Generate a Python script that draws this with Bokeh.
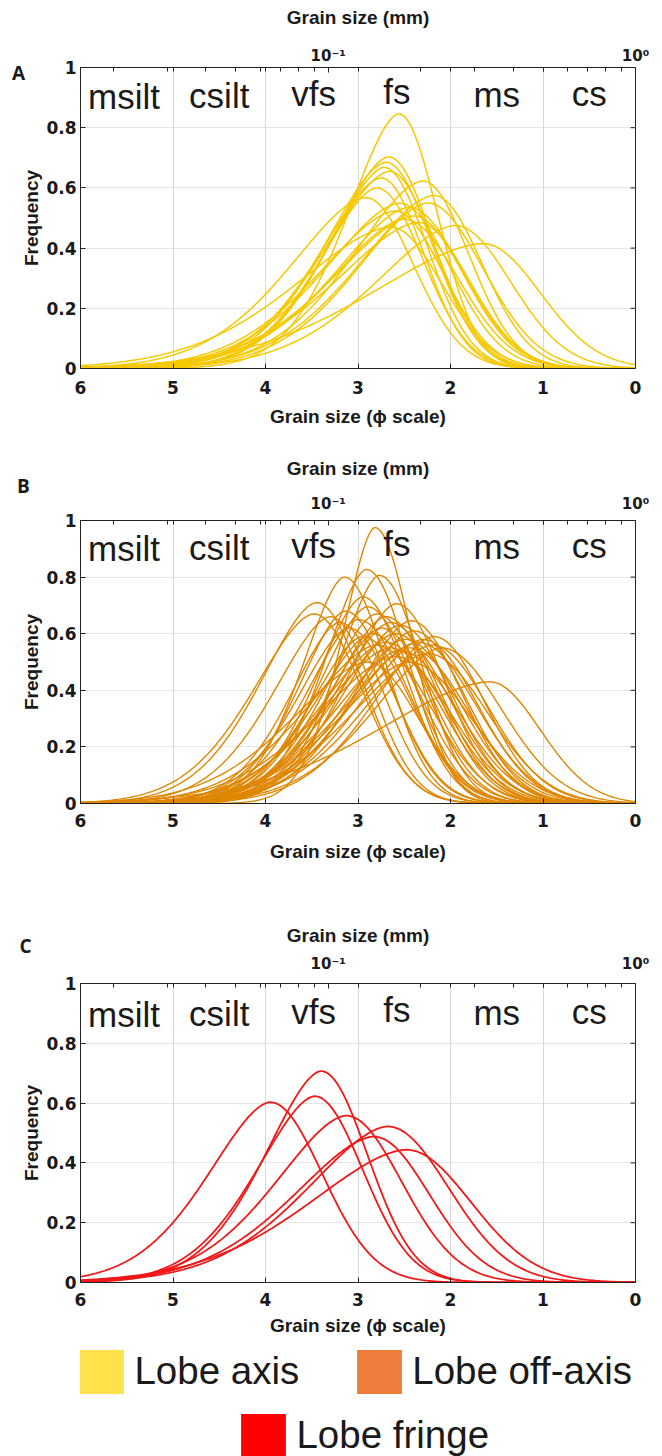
import numpy as np
from bokeh.plotting import figure
from bokeh.models import (Range1d, LinearAxis, LogAxis, LogScale, FixedTicker, Grid,
                          Label, Legend, LegendItem, ColumnDataSource)
from bokeh.layouts import column
from bokeh.embed import file_html
from bokeh.resources import INLINE
from bokeh.core.properties import value

# ---------------- data ----------------
phi_ticks = [6, 5, 4, 3, 2, 1, 0]
freq_ticks = [0, 0.2, 0.4, 0.6, 0.8, 1]
freq_tick_labels = ["0", "0.2", "0.4", "0.6", "0.8", "1"]
class_names = ["msilt", "csilt", "vfs", "fs", "ms", "cs"]
class_bounds = [6, 5, 4, 3, 2, 1, 0]
mm_major = [0.1, 1.0]
mm_major_labels = ["10\u207b\u00b9", "10\u2070"]
mm_minor = [0.02, 0.03, 0.04, 0.05, 0.06, 0.07, 0.08, 0.09,
            0.2, 0.3, 0.4, 0.5, 0.6, 0.7, 0.8, 0.9]

# Panel A - lobe axis: mode (phi), peak frequency, spread toward fine side, spread toward coarse side
axis_mode = [2.56, 2.67, 2.70, 2.72, 2.66, 2.75, 2.30, 2.92, 2.18, 2.55,
             2.45, 2.60, 2.40, 2.50, 2.35, 1.95, 2.65, 1.65, 2.25, 2.80]
axis_peak = [0.846, 0.703, 0.685, 0.668, 0.655, 0.633, 0.623, 0.568, 0.575, 0.549,
             0.535, 0.523, 0.507, 0.496, 0.485, 0.475, 0.470, 0.415, 0.550, 0.600]
axis_sfine = [0.55, 0.62, 0.65, 0.60, 0.70, 0.66, 0.75, 0.80, 0.80, 0.80,
              0.78, 0.82, 0.85, 0.78, 0.88, 0.85, 1.00, 1.20, 0.75, 0.60]
axis_scoarse = [0.42, 0.48, 0.50, 0.47, 0.50, 0.46, 0.50, 0.52, 0.52, 0.55,
                0.58, 0.52, 0.55, 0.58, 0.55, 0.60, 0.55, 0.62, 0.60, 0.50]

# Panel B - lobe off-axis
off_mode = [2.82, 2.91, 3.15, 2.77, 3.45, 3.48, 2.95, 2.59, 2.90, 3.14,
            2.18, 2.43, 1.58, 2.80, 2.70, 3.00, 2.65, 2.55, 2.75, 3.20,
            2.40, 2.85, 2.60, 2.30, 2.95, 2.50, 2.70, 2.20, 2.45, 2.65,
            3.10, 2.35, 2.80, 2.55, 3.30, 2.25, 2.60, 2.90, 2.45, 2.10]
off_peak = [0.975, 0.827, 0.800, 0.806, 0.710, 0.670, 0.730, 0.706, 0.695, 0.680,
            0.590, 0.646, 0.430, 0.670, 0.660, 0.650, 0.640, 0.630, 0.620, 0.640,
            0.610, 0.600, 0.600, 0.580, 0.590, 0.580, 0.570, 0.560, 0.550, 0.550,
            0.620, 0.570, 0.560, 0.540, 0.660, 0.530, 0.520, 0.500, 0.500, 0.550]
off_sfine = [0.35, 0.45, 0.45, 0.45, 0.60, 0.64, 0.50, 0.55, 0.52, 0.50,
             0.65, 0.60, 1.20, 0.55, 0.58, 0.55, 0.60, 0.62, 0.58, 0.52,
             0.65, 0.60, 0.66, 0.68, 0.55, 0.64, 0.70, 0.72, 0.66, 0.74,
             0.55, 0.78, 0.75, 0.70, 0.60, 0.80, 0.82, 0.80, 0.75, 0.72]
off_scoarse = [0.40, 0.46, 0.46, 0.46, 0.50, 0.52, 0.48, 0.53, 0.51, 0.50,
               0.55, 0.55, 0.55, 0.53, 0.55, 0.55, 0.55, 0.57, 0.55, 0.48,
               0.57, 0.55, 0.60, 0.59, 0.53, 0.61, 0.59, 0.61, 0.63, 0.60,
               0.50, 0.63, 0.59, 0.63, 0.46, 0.65, 0.61, 0.55, 0.67, 0.65]

# Panel C - lobe fringe
fringe_mode = [3.95, 3.40, 3.47, 3.13, 2.68, 2.83, 2.48]
fringe_peak = [0.603, 0.707, 0.623, 0.558, 0.522, 0.488, 0.444]
fringe_sfine = [0.66, 0.60, 0.62, 0.75, 0.86, 0.85, 1.03]
fringe_scoarse = [0.56, 0.50, 0.52, 0.60, 0.66, 0.60, 0.70]

legend_labels = ["Lobe axis", "Lobe off-axis", "Lobe fringe"]
legend_colors = ["#FFE14C", "#ED7D3A", "#FF0000"]
line_colors = ["#F5C800", "#DF8600", "#F01818"]
line_widths = [1.5, 1.4, 1.8]

# ---------------- helpers ----------------
AX = "#222222"
TXT = "#1a1a1a"
LEFT, FRAME_W, RIGHT = 80, 555, 27
PX_PER_PHI = FRAME_W / 6.0
phi = np.linspace(6, 0, 361)


def profile(mode, peak, s_fine, s_coarse):
    d = phi - mode
    fine = peak * np.exp(-0.5 * np.abs(d / s_fine) ** 1.7)
    coarse = peak * np.exp(-0.5 * (d / s_coarse) ** 2)
    return np.where(d >= 0, fine, coarse)


def make_panel(letter, modes, peaks, sf, sc, color, lw, g):
    p = figure(width=662, height=g["h"], frame_width=FRAME_W, frame_height=g["fh"],
               x_range=Range1d(6, 0), y_range=Range1d(0, 1),
               x_axis_location=None, y_axis_location=None,
               output_backend="svg", toolbar_location=None,
               min_border_left=LEFT, min_border_right=RIGHT,
               min_border_top=g["t"], min_border_bottom=g["b"],
               background_fill_color="white", border_fill_color="white",
               outline_line_color=AX, outline_line_width=1)
    p.extra_x_ranges = {"mm": Range1d(2.0 ** -6, 1.0)}
    p.extra_x_scales = {"mm": LogScale()}

    p.add_layout(Grid(dimension=0, ticker=FixedTicker(ticks=class_bounds[1:-1]),
                      grid_line_color="#d8d8d8", grid_line_width=1))

    tick_font = dict(major_label_text_font="DejaVu Sans", major_label_text_font_style="bold",
                     major_label_text_font_size="17px", major_label_text_color=TXT)
    title_font = dict(axis_label_text_font="Liberation Sans", axis_label_text_font_style="bold",
                      axis_label_text_font_size="19px", axis_label_text_color=TXT)
    common = dict(axis_line_color=AX, major_tick_line_color=AX, minor_tick_line_color=AX,
                  major_tick_in=5, major_tick_out=0, minor_tick_in=0, minor_tick_out=0)

    bottom = LinearAxis(ticker=FixedTicker(ticks=phi_ticks),
                        axis_label="Grain size (\u03d5 scale)",
                        major_label_standoff=g["bt"], axis_label_standoff=g["bl"],
                        **tick_font, **title_font, **common)
    p.add_layout(bottom, "below")

    left = LinearAxis(ticker=FixedTicker(ticks=freq_ticks),
                      major_label_overrides=dict(zip(freq_ticks, freq_tick_labels)),
                      axis_label="Frequency",
                      major_label_standoff=4, axis_label_standoff=1,
                      **tick_font, **title_font, **common)
    p.add_layout(left, "left")

    # inner tick marks on the right edge of the box
    tick_len = 5 / PX_PER_PHI
    p.segment(x0=[0] * len(freq_ticks), x1=[tick_len] * len(freq_ticks),
              y0=freq_ticks, y1=freq_ticks, line_color=AX, line_width=1)

    phi_mm = [2.0 ** -k for k in class_bounds[1:-1]]
    top_common = dict(common)
    top_common.update(minor_tick_in=4)
    top = LogAxis(x_range_name="mm",
                  ticker=FixedTicker(ticks=mm_major, minor_ticks=sorted(mm_minor + phi_mm)),
                  major_label_overrides=dict(zip(mm_major, mm_major_labels)),
                  axis_label="Grain size (mm)",
                  major_label_standoff=g["tt"], axis_label_standoff=g["tl"],
                  major_label_text_font="DejaVu Sans", major_label_text_font_style="bold",
                  major_label_text_font_size="15px", major_label_text_color=TXT,
                  **title_font, **top_common)
    p.add_layout(top, "above")

    xs = [phi for _ in modes]
    ys = [profile(m, h, a, b) for m, h, a, b in zip(modes, peaks, sf, sc)]
    p.multi_line(xs=xs, ys=ys, line_color=color, line_width=lw)

    mids = [(a + b) / 2 for a, b in zip(class_bounds[:-1], class_bounds[1:])]
    dx = [0.03, 0.0, -0.02, 0.08, 0.0, 0.0]
    dy_px = [0, -1, -3, -5, -2, -3]
    cx = [m + d for m, d in zip(mids, dx)]
    cy = [1 - (g["cat"] + d) / g["fh"] for d in dy_px]
    p.text(x=cx, y=cy, text=class_names, text_font=value("Liberation Sans"),
           text_font_size="35px", text_align="center", text_baseline="alphabetic",
           text_color=TXT)

    p.add_layout(Label(x=6 + g["lx"] / PX_PER_PHI, y=1 + g["ly"] / g["fh"], text=letter,
                       text_font="Open Sans", text_font_style="bold", text_font_size="19px",
                       text_align="center", text_baseline="middle", text_color=TXT), "left")
    return p


gA = dict(h=448, fh=301, t=67, b=80, bt=12, bl=9, tt=3, tl=16, cat=29, lx=62, ly=-5)
gB = dict(h=457, fh=283, t=72, b=102, bt=10, bl=11, tt=8, tl=13, cat=28, lx=57, ly=35)
gC = dict(h=435, fh=299, t=78, b=58, bt=10, bl=6, tt=11, tl=6, cat=31, lx=55, ly=38)

pA = make_panel("A", axis_mode, axis_peak, axis_sfine, axis_scoarse,
                line_colors[0], line_widths[0], gA)
pB = make_panel("B", off_mode, off_peak, off_sfine, off_scoarse,
                line_colors[1], line_widths[1], gB)
pC = make_panel("C", fringe_mode, fringe_peak, fringe_sfine, fringe_scoarse,
                line_colors[2], line_widths[2], gC)

# ---------------- legend ----------------
pL = figure(width=662, height=116, frame_width=FRAME_W, frame_height=116,
            x_range=Range1d(0, 1), y_range=Range1d(0, 1),
            x_axis_location=None, y_axis_location=None, output_backend="svg",
            toolbar_location=None, min_border_left=LEFT, min_border_right=RIGHT,
            min_border_top=0, min_border_bottom=0, outline_line_color=None,
            background_fill_color="white", border_fill_color="white")
pL.grid.visible = False
items = []
for lab, col in zip(legend_labels, legend_colors):
    src = ColumnDataSource(dict(l=[0.0], r=[0.0], b=[0.0], t=[0.0]))
    rr = pL.quad(left="l", right="r", bottom="b", top="t", source=src,
                 fill_color=col, line_color=None)
    items.append(LegendItem(label=lab, renderers=[rr]))

leg_style = dict(orientation="horizontal", glyph_width=56, glyph_height=55,
                 label_standoff=5, spacing=52, padding=0, margin=0,
                 border_line_color=None, background_fill_alpha=0,
                 label_text_font="Liberation Sans", label_text_font_size="38.5px",
                 label_text_color=TXT)
pL.add_layout(Legend(items=items[:2], location=(73.4 - LEFT, 57.5), **leg_style))
pL.add_layout(Legend(items=items[2:], location=(235.4 - LEFT, -6.5), **leg_style))

layout = column(pA, pB, pC, pL, spacing=0)
open("out.html", "w").write(file_html(layout, INLINE))
